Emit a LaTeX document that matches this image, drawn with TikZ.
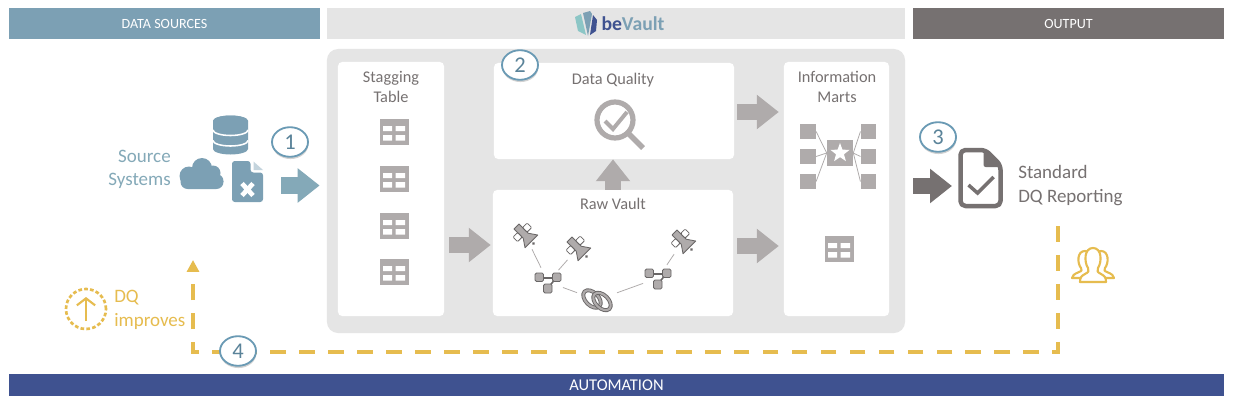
\documentclass[tikz,border=0pt]{standalone}
\usepackage{fontspec}
\setmainfont{Carlito}
\usetikzlibrary{arrows.meta, shapes.geometric, shadows}

\definecolor{source_color}{RGB}{124,160,180}
\definecolor{source_arrow_color}{RGB}{132,169,184}
\definecolor{panel_color}{RGB}{229,229,229}
\definecolor{output_color}{RGB}{118,113,113}
\definecolor{icon_color}{RGB}{175,171,171}
\definecolor{link_color}{RGB}{105,102,102}
\definecolor{automation_color}{RGB}{63,82,144}
\definecolor{dq_color}{RGB}{230,188,79}
\definecolor{ring_color}{RGB}{106,154,180}

\tikzset{
  bar/.style={draw=none, minimum height=0.775cm, inner sep=0pt, font=\fontsize{10}{11}\selectfont, text=white},
  card/.style={fill=white, rounded corners=3pt, inner sep=0pt},
  card_title/.style={text=output_color, align=center, inner sep=0pt, font=\fontsize{11.6}{14.2}\selectfont},
  side_text/.style={inner sep=0pt, font=\fontsize{13.5}{16.6}\selectfont},
  spot/.style={circle, inner sep=0pt},
  step_mark/.style={ellipse, draw=ring_color, fill=white, line width=1.3pt, minimum width=0.9cm, minimum height=0.74cm, inner sep=0pt,
    text=ring_color!85!black, font=\fontsize{16}{18}\selectfont, drop shadow={shadow xshift=0.3pt, shadow yshift=-1.6pt, opacity=0.35}},
  thin_link/.style={draw=icon_color, line width=0.55pt},
  block/.style={line width=11.4pt, -{Triangle[length=15.6pt, width=23.5pt]}},
  dq_line/.style={draw=dq_color, line width=2.7pt, dash pattern=on 11.2pt off 9.4pt},
  table_icon/.pic={
    \fill[icon_color] (-14.5,-13) rectangle (14.5,13);
    \fill[white] (-11,-6) rectangle (-2,-1) (1.5,-6) rectangle (11,-1) (-11,3) rectangle (-2,8.5) (1.5,3) rectangle (11,8.5);
  },
  sat_icon/.pic={
    \begin{scope}[rotate=45, draw=link_color, line width=0.6pt]
      \filldraw[fill=icon_color, line join=round] (-3.5,-12) -- (3.5,-12) -- (3.5,1) -- (9,9) -- (-9,9) -- (-3.5,1) -- cycle;
      \filldraw[fill=white, rounded corners=0.8pt] (-10,-7) rectangle (-3.5,-0.5);
      \filldraw[fill=white, rounded corners=0.8pt] (3.5,-7) rectangle (10,-0.5);
      \fill[link_color] (0,12) circle (1.5);
    \end{scope}
  },
  hub_icon/.pic={
    \draw[link_color, line width=1.1pt] (-8,-4) -- (8,-4) -- (0,6);
    \filldraw[fill=icon_color, draw=link_color, line width=0.6pt, rounded corners=1pt] (-13,-9) rectangle (-4.5,-0.5) (4.5,-9) rectangle (13,-0.5) (-4.5,2) rectangle (4,11);
  },
  link_icon/.pic={
    \draw[draw=link_color, double=icon_color, line width=0.65pt, double distance=1.5pt, rotate around={-45:(-5,-1)}] (-5,-1) ellipse (10.5 and 6.5);
    \draw[draw=link_color, double=icon_color, line width=0.65pt, double distance=1.5pt, rotate around={-45:(5,1.5)}] (5,1.5) ellipse (10.5 and 6.5);
  },
  db_icon/.pic={
    \fill[source_color] (-17.5,-14) arc (180:360:17.5 and 5.5) -- (17.5,14) arc (0:180:17.5 and 5.5) -- cycle;
    \fill[source_color] (0,-14) ellipse (17.5 and 5.5);
    \draw[white, line width=1.1pt] (-17.5,-5) arc (180:0:17.5 and 5.5);
    \draw[white, line width=1.1pt] (-17.5,5.5) arc (180:0:17.5 and 5.5);
  },
  cloud_icon/.pic={
    \fill[source_color] (-13,2) circle (9.5) (0,-6) circle (10) (11,-1) circle (7.5);
    \fill[source_color, rounded corners=5pt] (-21.5,0) rectangle (21.5,15);
  },
  sheet_icon/.pic={
    \fill[source_color, rounded corners=2pt] (-15.5,-20.5) -- (3,-20.5) -- (3,-9) -- (15.5,-9) -- (15.5,20.5) -- (-15.5,20.5) -- cycle;
    \fill[source_color!45!white] (6,-20) -- (15.5,-11.5) -- (6,-11.5) -- cycle;
    \draw[white, line width=3.3pt] (-5.5,2) -- (5.5,14) (5.5,2) -- (-5.5,14);
  },
  report_icon/.pic={
    \draw[output_color, line width=3.2pt, rounded corners=3.5pt, line join=round] (-20,-28) -- (5,-28) -- (20,-13) -- (20,28) -- (-20,28) -- cycle;
    \fill[output_color] (3,-28) -- (20,-11) -- (9,-11) [rounded corners=1.5pt] -- (3,-11) -- cycle;
    \draw[output_color, line width=2.5pt] (-12,7) -- (-3,15) -- (13,-1);
  },
  lens_icon/.pic={
    \draw[icon_color, line width=3.7pt] (0,0) circle (18);
    \draw[icon_color, line width=4pt] (13,13) -- (28,28);
    \draw[icon_color, line width=2.8pt] (-10,1) -- (-2,9) -- (12,-8);
  },
  users_icon/.pic={
    \foreach \dx in {-8,8} {
      \draw[shift={(\dx,0)}, dq_color, line width=1.5pt, line join=round] (0,-14) .. controls (-8,-14) and (-8,-2) .. (-4,3) .. controls (-3,5) and (-3,6) .. (-6,7) .. controls (-11,9) and (-13,11) .. (-13,13) -- (13,13) .. controls (13,11) and (11,9) .. (6,7) .. controls (3,6) and (3,5) .. (4,3) .. controls (8,-2) and (8,-14) .. (0,-14) -- cycle;
    }
    \draw[dq_color, fill=white, line width=1.5pt, line join=round] (0,-17) .. controls (-9,-17) and (-9,-3) .. (-5,3) .. controls (-4,6) and (-4,7) .. (-8,9) .. controls (-12,11) and (-13,13) .. (-13,17) -- (13,17) .. controls (13,13) and (12,11) .. (8,9) .. controls (4,7) and (4,6) .. (5,3) .. controls (9,-3) and (9,-17) .. (0,-17) -- cycle;
  },
}

\begin{document}
\begin{tikzpicture}[x=0.025cm, y=-0.025cm]

\useasboundingbox (0,0) rectangle (1236,401);
\fill[white] (0,0) rectangle (1236,401);

% top and bottom bars
\node[bar, fill=source_color, minimum width=7.775cm] (sources_bar) at (164.5,23.5) {DATA SOURCES};
\node[bar, fill=panel_color, minimum width=14.45cm] (bevault_bar) at (616,23.5) {};
\node[bar, fill=output_color, minimum width=7.775cm] (output_bar) at (1068.5,23.5) {OUTPUT};
\node[bar, fill=automation_color, minimum width=30.375cm, minimum height=0.55cm, font=\fontsize{11.7}{13}\selectfont] (automation_bar) at (616.5,385) {AUTOMATION};

% logo
\fill[teal!45!white] (575,17) -- (581,14) -- (586,35) -- (578,31) -- cycle;
\fill[source_color] (583,13) -- (590,11) -- (592,14) -- (588,36) -- cycle;
\fill[automation_color] (593,15) -- (597,20) -- (596,31) -- (590,35) -- cycle;
\node[inner sep=0pt, font=\fontsize{14}{16}\bfseries\selectfont] (logo_text) at (633,24) {\textcolor{automation_color}{be}\textcolor{source_color}{Vault}};

% panel and cards
\node[fill=panel_color, rounded corners=8pt, minimum width=14.45cm, minimum height=7.1cm, inner sep=0pt] (panel) at (616,191) {};
\node[card, minimum width=2.65cm, minimum height=6.35cm] (stagging) at (391,189) {};
\node[card, minimum width=6cm, minimum height=2.4cm] (data_quality) at (614,111) {};
\node[card, minimum width=6cm, minimum height=3.15cm] (raw_vault) at (613,253) {};
\node[card, minimum width=2.625cm, minimum height=6.35cm] (marts) at (836.5,189) {};

\node[card_title] (stagging_title) at (391,87) {Stagging\\Table};
\node[card_title] (dq_title) at (613,80) {Data Quality};
\node[card_title] (raw_title) at (613,204) {Raw Vault};
\node[card_title] (marts_title) at (837,87) {Information\\Marts};

% stagging tables
\foreach \y in {132,179,226,272} {
  \pic at (394,\y) {table_icon};
}
\pic at (839,249) {table_icon};
\pic at (615,120) {lens_icon};

% raw vault
\node[spot, minimum size=0.78cm] (sat_a) at (525,235) {};
\node[spot, minimum size=0.78cm] (sat_b) at (578,248) {};
\node[spot, minimum size=0.78cm] (sat_c) at (683,241) {};
\node[spot, minimum size=0.78cm] (hub_a) at (548,282) {};
\node[spot, minimum size=0.78cm] (hub_b) at (658,278) {};
\node[spot, minimum size=1.05cm] (link_a) at (597,300) {};
\draw[thin_link] (sat_a) -- (hub_a);
\draw[thin_link] (sat_b) -- (hub_a);
\draw[thin_link] (sat_c) -- (hub_b);
\draw[thin_link] (hub_a) -- (link_a);
\draw[thin_link] (link_a) -- (hub_b);
\pic at (sat_a) {sat_icon};
\pic at (sat_b) {sat_icon};
\pic at (sat_c) {sat_icon};
\pic at (hub_a) {hub_icon};
\pic at (hub_b) {hub_icon};
\pic at (link_a) {link_icon};

% star schema
\foreach \name/\x/\y in {dim_a/808/131.5, dim_b/808/156.5, dim_c/808/181.5, dim_d/868.5/131.5, dim_e/868.5/156.5, dim_f/868.5/181.5} {
  \node[fill=icon_color, minimum width=0.39cm, minimum height=0.38cm, inner sep=0pt] (\name) at (\x,\y) {};
}
\node[fill=icon_color, minimum size=0.65cm, inner sep=0pt] (fact) at (840,153) {};
\node[star, star points=5, star point ratio=2.4, fill=white, minimum size=0.5cm, inner sep=0pt] (fact_star) at (fact) {};
\foreach \name in {dim_a,dim_b,dim_c} {
  \draw[thin_link] (\name.east) -- (fact.west);
}
\foreach \name in {dim_d,dim_e,dim_f} {
  \draw[thin_link] (\name.west) -- (fact.east);
}

% source side
\pic at (230.5,135) {db_icon};
\pic at (202,174) {cloud_icon};
\pic at (247.5,181.5) {sheet_icon};
\node[side_text, text=source_arrow_color, align=right, anchor=east] (source_label) at (171,169.5) {Source\\Systems};

% output side
\node[spot, minimum size=1.5cm] (report) at (980.5,178) {};
\pic at (report) {report_icon};
\node[side_text, text=output_color, align=left, anchor=west] (report_label) at (1018,185.5) {Standard\\DQ Reporting};
\pic at (1093,265) {users_icon};

% improves
\node[circle, draw=dq_color, line width=1.9pt, dash pattern=on 2.6pt off 1.6pt, minimum size=1cm, inner sep=0pt] (improve_ring) at (86,309) {};
\coordinate (ring_low) at (86,321);
\coordinate (ring_high) at (86,297);
\draw[dq_color, line width=1.5pt, -{Straight Barb[length=5pt, width=13pt]}] (ring_low) -- (ring_high);
\node[side_text, text=dq_color, align=left, anchor=west] (improve_label) at (114,310) {DQ\\improves};

% block arrows
\coordinate (source_out) at (281,185.5);
\coordinate (stag_out) at (449,245);
\coordinate (raw_out) at (737,246);
\coordinate (dq_out) at (737,112);
\coordinate (report_in) at (913,186);
\draw[block, source_arrow_color, shorten >=5pt] (source_out) -- (source_out -| panel.west);
\draw[block, icon_color, shorten >=1.4pt] (stag_out) -- (stag_out -| raw_vault.west);
\draw[block, icon_color, shorten >=3.5pt] (raw_out) -- (raw_out -| marts.west);
\draw[block, icon_color, shorten >=3.5pt] (dq_out) -- (dq_out -| marts.west);
\draw[block, icon_color] (raw_vault.north) -- (raw_vault.north |- data_quality.south);
\draw[block, output_color, shorten >=20.3pt] (report_in) -- (report_in -| report);

% dashed loop
\coordinate (report_out) at (1058,226);
\coordinate (loop_right) at (1058,352);
\coordinate (loop_left) at (193,352);
\coordinate (improve_in) at (193,260);
\draw[dq_line, -{Triangle[length=8.5pt, width=8.5pt]}] (report_out) -- (loop_right) -- (loop_left) -- (improve_in);

% numbers
\node[step_mark] (step_one) at (290,142) {1};
\node[step_mark] (step_two) at (520,65) {2};
\node[step_mark] (step_three) at (938,137) {3};
\node[step_mark] (step_four) at (238,351) {4};

\end{tikzpicture}
\end{document}
